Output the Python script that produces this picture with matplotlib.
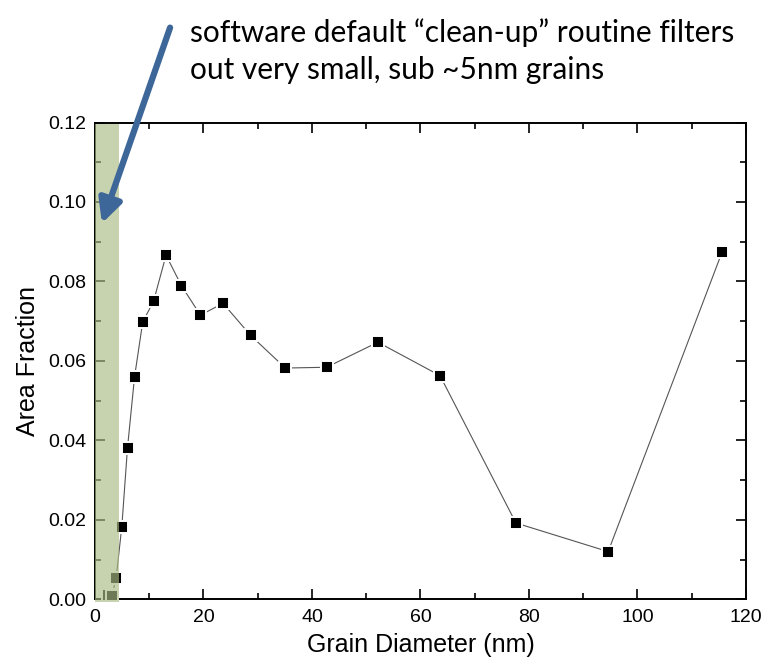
import matplotlib
matplotlib.use("Agg")
import matplotlib.pyplot as plt
from matplotlib.ticker import MultipleLocator, FormatStrFormatter
from matplotlib.patches import Rectangle, FancyArrowPatch

# Grain size distribution (area fraction per diameter bin)
diameter_nm = [2.4, 3.1, 3.9, 4.95, 6.0, 7.3, 8.8, 10.8, 13.1, 15.95, 19.45,
               23.6, 28.7, 35.1, 42.7, 52.15, 63.6, 77.6, 94.6, 115.6]
area_fraction = [0.0010, 0.0008, 0.0053, 0.0183, 0.0382, 0.0560, 0.0698, 0.0750,
                 0.0866, 0.0789, 0.0715, 0.0745, 0.0664, 0.0582, 0.0584, 0.0647,
                 0.0563, 0.0192, 0.0120, 0.0874]

# Region removed by the clean-up routine
cleanup_limit_nm = 4.4

x_ticks = [0, 20, 40, 60, 80, 100, 120]
y_ticks = [0.00, 0.02, 0.04, 0.06, 0.08, 0.10, 0.12]

note = "software default \u201cclean-up\u201d routine filters\nout very small, sub ~5nm grains"

fig = plt.figure(figsize=(7.64, 6.72), dpi=100)
ax = fig.add_axes([0.1243, 0.1082, 0.9764 - 0.1243, 0.8177 - 0.1082])

ax.plot(diameter_nm, area_fraction, color="#555555", lw=0.8,
        marker="s", ms=8.5, mfc="black", mec="white", mew=1.4, zorder=3)

ax.set_xlim(0, 120)
ax.set_ylim(0, 0.12)
ax.set_xticks(x_ticks)
ax.set_yticks(y_ticks)
ax.xaxis.set_minor_locator(MultipleLocator(10))
ax.yaxis.set_minor_locator(MultipleLocator(0.01))
ax.yaxis.set_major_formatter(FormatStrFormatter("%.2f"))

font = ["Liberation Sans", "DejaVu Sans"]
ax.tick_params(which="both", direction="in", top=True, right=True,
               labelsize=14, width=1.2, colors="black")
ax.tick_params(which="major", length=7)
ax.tick_params(which="minor", length=4)
ax.tick_params(axis="x", pad=7)
ax.tick_params(axis="y", pad=6)
for lab in ax.get_xticklabels() + ax.get_yticklabels():
    lab.set_family(font)
for s in ax.spines.values():
    s.set_linewidth(1.4)

ax.set_xlabel("Grain Diameter (nm)", fontsize=18, family=font, labelpad=5)
ax.set_ylabel("Area Fraction", fontsize=18, family=font, labelpad=6)

# Shaded band over the filtered small-grain region
band = Rectangle((0, -0.0008), cleanup_limit_nm, 0.1203, facecolor=(168/255, 188/255, 131/255),
                 alpha=0.65, edgecolor="none", zorder=5, clip_on=False)
ax.add_patch(band)

# Annotation text and arrow
fig.text(190 / 764, 1 - 18 / 672, note, ha="left", va="top", fontsize=21.5,
         family=["Lato", "DejaVu Sans"], linespacing=1.38, color="black")

arrow = FancyArrowPatch((171, 672 - 25), (101, 672 - 226), transform=None,
                        arrowstyle="-|>,head_length=14,head_width=7",
                        lw=4.5, color="#3d6699", mutation_scale=1, zorder=10)
fig.patches.append(arrow)

fig.savefig("out.png", dpi=100)
